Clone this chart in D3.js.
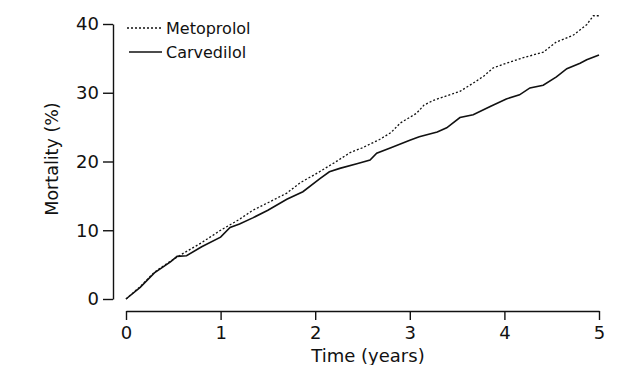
<!DOCTYPE html>
<html>
<head>
<meta charset="utf-8">
<script src="https://cdn.jsdelivr.net/npm/d3@7"></script>
<style>
  body { margin: 0; background: #fff; }
  svg { display: block; font-family: "DejaVu Sans", sans-serif; }
  .axis path, .axis line { stroke: #111; stroke-width: 1.4; }
  .axis text { font-size: 18px; fill: #111; font-family: "DejaVu Sans", sans-serif; }
</style>
</head>
<body>
<svg id="chart" width="617" height="365"></svg>
<script>
var seriesNames = ['Metoprolol', 'Carvedilol'];

var metoprololTime = [0, 0.15, 0.3, 0.47, 0.6, 0.8, 1.0, 1.2, 1.34, 1.5, 1.7, 1.84, 2.02, 2.2, 2.37, 2.5, 2.68, 2.8, 2.9, 3.07, 3.15, 3.25, 3.4, 3.53, 3.67, 3.78, 3.88, 4.0, 4.2, 4.41, 4.55, 4.63, 4.73, 4.87, 4.94, 5.0];
var metoprololMortality = [0, 1.8, 3.9, 5.5, 6.6, 8.2, 10.0, 11.6, 12.9, 14.0, 15.4, 16.9, 18.3, 19.8, 21.3, 22.0, 23.2, 24.2, 25.6, 27.0, 28.2, 28.9, 29.6, 30.2, 31.4, 32.4, 33.6, 34.2, 35.1, 35.9, 37.4, 37.8, 38.4, 39.9, 41.2, 41.2];

var carvedilolTime = [0, 0.15, 0.3, 0.47, 0.54, 0.64, 0.8, 1.0, 1.1, 1.2, 1.34, 1.5, 1.7, 1.87, 2.05, 2.15, 2.26, 2.45, 2.58, 2.65, 2.8, 3.0, 3.1, 3.29, 3.39, 3.53, 3.67, 3.85, 4.02, 4.16, 4.27, 4.41, 4.55, 4.66, 4.8, 4.87, 5.0];
var carvedilolMortality = [0, 1.7, 3.8, 5.4, 6.2, 6.3, 7.6, 9.0, 10.4, 10.9, 11.8, 12.9, 14.5, 15.6, 17.5, 18.5, 19.0, 19.7, 20.2, 21.2, 22.0, 23.1, 23.6, 24.3, 24.9, 26.4, 26.8, 28.0, 29.1, 29.7, 30.7, 31.1, 32.3, 33.5, 34.3, 34.8, 35.5];

var xTicks = [0, 1, 2, 3, 4, 5];
var yTicks = [0, 10, 20, 30, 40];

var svg = d3.select('#chart');

var x = d3.scaleLinear().domain([0, 5]).range([126, 599]);
var y = d3.scaleLinear().domain([0, 40]).range([299, 24]);

// axes are drawn offset from each other, as in the original
svg.append('g')
    .attr('class', 'axis')
    .attr('transform', 'translate(113,0)')
    .call(d3.axisLeft(y).tickValues(yTicks).tickFormat(d3.format('d'))
        .tickSize(10).tickSizeOuter(0).tickPadding(4));

svg.append('g')
    .attr('class', 'axis')
    .attr('transform', 'translate(0,311)')
    .call(d3.axisBottom(x).tickValues(xTicks).tickFormat(d3.format('d'))
        .tickSize(9).tickSizeOuter(0).tickPadding(6));

svg.append('text')
    .attr('transform', 'translate(58,159) rotate(-90)')
    .attr('text-anchor', 'middle')
    .style('font-size', '17.5px')
    .attr('fill', '#111')
    .text('Mortality (%)');

svg.append('text')
    .attr('x', 368)
    .attr('y', 362)
    .attr('text-anchor', 'middle')
    .style('font-size', '18px')
    .attr('fill', '#111')
    .text('Time (years)');

var line = d3.line()
    .x(function(d) { return x(d[0]); })
    .y(function(d) { return y(d[1]); });

var series = [
    { name: seriesNames[0], values: d3.zip(metoprololTime, metoprololMortality), dash: '2,2', width: 1.3 },
    { name: seriesNames[1], values: d3.zip(carvedilolTime, carvedilolMortality), dash: null, width: 1.6 }
];

svg.selectAll('path.series')
    .data(series)
    .join('path')
    .classed('series', true)
    .attr('d', function(d) { return line(d.values); })
    .attr('fill', 'none')
    .attr('stroke', '#111')
    .attr('stroke-width', function(d) { return d.width; })
    .attr('stroke-dasharray', function(d) { return d.dash; });

// legend
var legend = svg.selectAll('g.legend')
    .data(series)
    .join('g')
    .classed('legend', true)
    .attr('transform', function(d, i) { return 'translate(0,' + (28 + i * 24) + ')'; });

legend.append('line')
    .attr('x1', function(d, i) { return i === 0 ? 127 : 129; })
    .attr('x2', 162)
    .attr('stroke', '#111')
    .attr('stroke-width', function(d) { return d.width; })
    .attr('stroke-dasharray', function(d) { return d.dash; });

legend.append('text')
    .attr('x', 166)
    .attr('dy', '0.36em')
    .style('font-size', '16px')
    .attr('fill', '#111')
    .text(function(d) { return d.name; });
</script>
</body>
</html>
